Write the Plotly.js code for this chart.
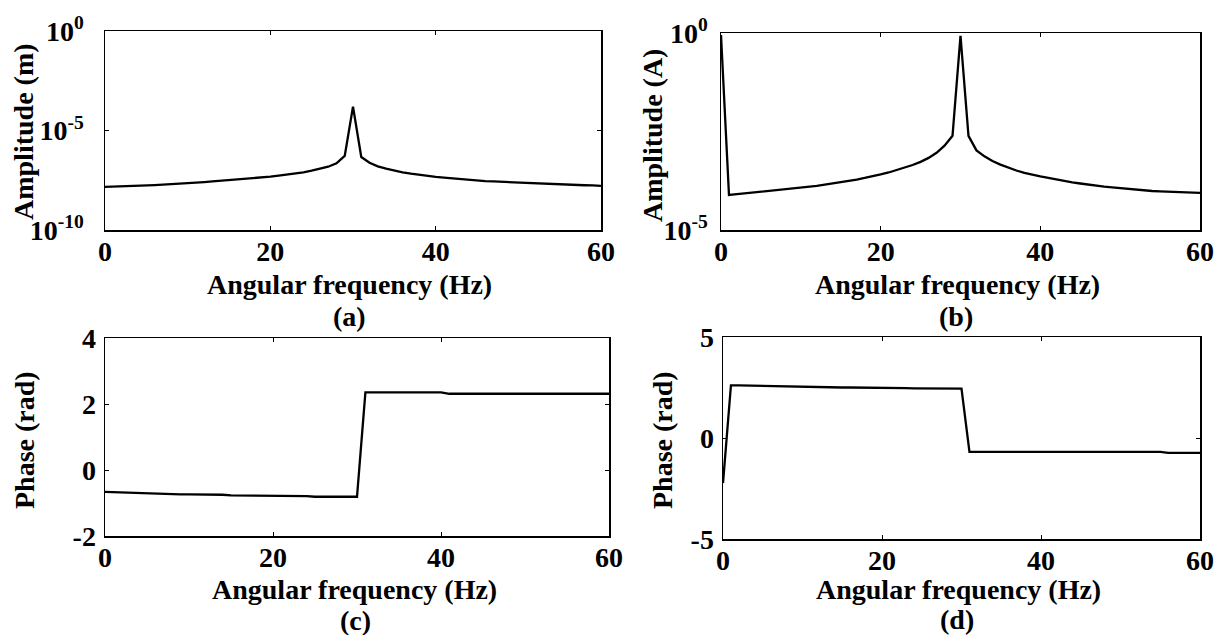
<!DOCTYPE html>
<html>
<head>
<meta charset="utf-8">
<script src="https://cdn.plot.ly/plotly-3.0.1.min.js"></script>
<style>html,body{margin:0;padding:0;background:#fff;} #chart{width:1224px;height:635px;}</style>
</head>
<body>
<div id="chart"></div>
<script>
// Frequency axis (Hz)
const freq = [0,1,2,3,4,5,6,7,8,9,10,11,12,13,14,15,16,17,18,19,20,21,22,23,24,25,26,27,28,29,30,
  31,32,33,34,35,36,37,38,39,40,41,42,43,44,45,46,47,48,49,50,51,52,53,54,55,56,57,58,59,60];

// (a) displacement amplitude (m), read as powers of ten
const ampA_exp = [-7.83,-7.82,-7.81,-7.80,-7.78,-7.76,-7.74,-7.72,-7.70,-7.67,-7.65,-7.62,-7.59,-7.56,-7.53,-7.50,
  -7.47,-7.44,-7.40,-7.36,-7.32,-7.27,-7.22,-7.16,-7.10,-7.02,-6.93,-6.82,-6.65,-6.28,-3.80,
  -6.33,-6.62,-6.80,-6.92,-7.02,-7.10,-7.17,-7.23,-7.28,-7.33,-7.37,-7.41,-7.45,-7.48,-7.51,
  -7.54,-7.56,-7.58,-7.60,-7.62,-7.64,-7.66,-7.67,-7.69,-7.70,-7.72,-7.73,-7.75,-7.76,-7.78];

// (b) current amplitude (A), read as powers of ten
const ampB_exp = [-0.05,-4.11,-4.09,-4.07,-4.05,-4.03,-4.01,-3.99,-3.97,-3.95,-3.93,-3.91,-3.88,-3.85,-3.82,-3.79,
  -3.76,-3.72,-3.68,-3.64,-3.59,-3.54,-3.48,-3.42,-3.35,-3.27,-3.17,-3.04,-2.86,-2.61,-0.07,
  -2.61,-2.98,-3.13,-3.25,-3.34,-3.42,-3.49,-3.55,-3.60,-3.64,-3.68,-3.72,-3.76,-3.79,-3.82,
  -3.85,-3.88,-3.90,-3.92,-3.94,-3.96,-3.98,-4.00,-4.01,-4.02,-4.03,-4.04,-4.05,-4.05,-4.06];

// (c) displacement phase (rad)
const phaseC = [-0.66,-0.67,-0.68,-0.69,-0.71,-0.72,-0.72,-0.72,-0.73,-0.74,-0.74,-0.74,-0.75,-0.75,-0.75,-0.77,
  -0.77,-0.77,-0.77,-0.78,-0.78,-0.78,-0.79,-0.79,-0.79,-0.81,-0.81,-0.81,-0.81,-0.81,-0.81,
  2.35,2.35,2.35,2.35,2.35,2.35,2.35,2.35,2.35,2.35,2.31,2.31,2.31,2.31,2.31,
  2.31,2.31,2.31,2.31,2.31,2.31,2.31,2.31,2.31,2.31,2.31,2.31,2.31,2.31,2.31];

// (d) current phase (rad)
const phaseD = [-2.23,2.61,2.61,2.60,2.58,2.57,2.56,2.56,2.55,2.54,2.52,2.52,2.51,2.51,2.50,2.50,
  2.50,2.50,2.49,2.49,2.48,2.48,2.47,2.47,2.46,2.46,2.45,2.45,2.45,2.44,2.44,
  -0.69,-0.69,-0.69,-0.69,-0.69,-0.69,-0.69,-0.69,-0.69,-0.69,-0.69,-0.69,-0.69,-0.69,-0.69,
  -0.69,-0.69,-0.69,-0.69,-0.69,-0.69,-0.69,-0.69,-0.69,-0.69,-0.74,-0.74,-0.74,-0.74,-0.74];

const xTicks = [0,20,40,60];
const yTicksA = [1e-10,1e-5,1];
const yTickTextA = ['10<sup>-10</sup>','10<sup>-5</sup>','10<sup>0</sup>'];
const yTicksB = [1e-5,1];
const yTickTextB = ['10<sup>-5</sup>','10<sup>0</sup>'];
const yTicksC = [-2,0,2,4];
const yTicksD = [-5,0,5];

const xTitle = 'Angular frequency (Hz)';
const panelLabels = ['(a)','(b)','(c)','(d)'];
const yTitles = ['Amplitude (m)','Amplitude (A)','Phase (rad)','Phase (rad)'];

const FONT = '"Liberation Serif", "Times New Roman", Times, serif';
const W = 1224, H = 635;
const px = v => v / W;
const py = v => 1 - v / H;

const lineStyle = {color:'#000', width:2.3};
const traces = [
  {x: freq, y: ampA_exp.map(e => Math.pow(10, e)), xaxis:'x', yaxis:'y', mode:'lines', line: lineStyle},
  {x: freq, y: ampB_exp.map(e => Math.pow(10, e)), xaxis:'x2', yaxis:'y2', mode:'lines', line: lineStyle},
  {x: freq, y: phaseC, xaxis:'x3', yaxis:'y3', mode:'lines', line: lineStyle},
  {x: freq, y: phaseD, xaxis:'x4', yaxis:'y4', mode:'lines', line: lineStyle}
];

const tickFont = {family: FONT, size: 28, color:'#000', weight: 'bold'};
function xa(dom, anchor) {
  return {domain: dom, anchor: anchor, range:[0,60], tickvals: xTicks, ticktext: xTicks.map(String),
    showline:true, mirror:'ticks', linecolor:'#000', linewidth:1.5, ticks:'inside', ticklen:4, tickcolor:'#000',
    showgrid:false, zeroline:false, tickfont: tickFont, ticklabelstandoff: -4};
}
function ya(dom, anchor, extra) {
  return Object.assign({domain: dom, anchor: anchor,
    showline:true, mirror:'ticks', linecolor:'#000', linewidth:1.5, ticks:'inside', ticklen:4, tickcolor:'#000',
    showgrid:false, zeroline:false, tickfont: tickFont}, extra);
}

const dA = {x:[px(105),px(601)], y:[py(230),py(31)]};
const dB = {x:[px(721),px(1200)], y:[py(230),py(33)]};
const dC = {x:[px(105),px(609)], y:[py(536),py(338)]};
const dD = {x:[px(723),px(1200)], y:[py(539),py(337)]};

const layout = {
  width: W, height: H, margin:{l:0,r:0,t:0,b:0},
  paper_bgcolor:'#fff', plot_bgcolor:'#fff', showlegend:false,
  font:{family: FONT, color:'#000'},
  xaxis: xa(dA.x,'y'),
  yaxis: ya(dA.y,'x',{type:'log', range:[-10,0], tickvals:yTicksA, ticktext:yTickTextA, ticklabelstandoff: 14}),
  xaxis2: xa(dB.x,'y2'),
  yaxis2: ya(dB.y,'x2',{type:'log', range:[-5,0], tickvals:yTicksB, ticktext:yTickTextB, ticklabelstandoff: 6}),
  xaxis3: xa(dC.x,'y3'),
  yaxis3: ya(dC.y,'x3',{range:[-2,4], tickvals:yTicksC, ticktext:yTicksC.map(String), ticklabelstandoff: 2}),
  xaxis4: xa(dD.x,'y4'),
  yaxis4: ya(dD.y,'x4',{range:[-5,5], tickvals:yTicksD, ticktext:yTicksD.map(String), ticklabelstandoff: 2}),
  annotations: []
};

const titleFont = {family: FONT, size: 28, color:'#000', weight:'bold'};
const xTitlePos = [[349,284],[957,284],[354,589],[958,589]];
const labelPos = [[349,316],[956,316],[355,620],[957,619]];
const yTitlePos = [[24,132],[652,136],[24,440],[662,440]];
for (let i = 0; i < 4; i++) {
  layout.annotations.push({xref:'paper', yref:'paper', x:px(xTitlePos[i][0]), y:py(xTitlePos[i][1]),
    text:xTitle, showarrow:false, xanchor:'center', yanchor:'middle', font:titleFont});
  layout.annotations.push({xref:'paper', yref:'paper', x:px(labelPos[i][0]), y:py(labelPos[i][1]),
    text:panelLabels[i], showarrow:false, xanchor:'center', yanchor:'middle', font:titleFont});
  layout.annotations.push({xref:'paper', yref:'paper', x:px(yTitlePos[i][0]), y:py(yTitlePos[i][1]),
    text:yTitles[i], textangle:-90, showarrow:false, xanchor:'center', yanchor:'middle', font:titleFont});
}

Plotly.newPlot('chart', traces, layout, {displayModeBar:false, staticPlot:true});
</script>
</body>
</html>
